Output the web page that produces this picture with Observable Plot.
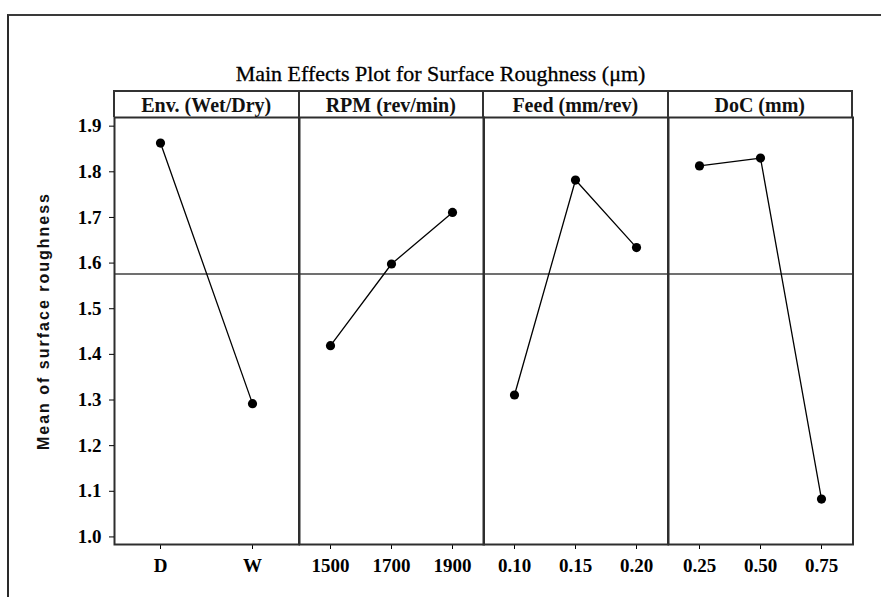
<!DOCTYPE html>
<html>
<head>
<meta charset="utf-8">
<script src="https://cdn.jsdelivr.net/npm/d3@7"></script>
<script src="https://cdn.jsdelivr.net/npm/@observablehq/plot@0.6"></script>
<style>
  html, body { margin: 0; padding: 0; background: #fff; }
  #chart { position: relative; width: 881px; height: 597px; overflow: hidden; background: #fff; }
  .outer { position: absolute; left: 7px; top: 14px; width: 900px; height: 700px; box-sizing: border-box;
           border-left: 2px solid #2a2a2a; border-top: 2px solid #3a3a3a; }
  .title { position: absolute; left: 0; width: 881px; top: 61px; text-align: center;
           font: 22px "Liberation Serif", "Times New Roman", serif; color: #000; white-space: nowrap;
           -webkit-text-stroke: 0.3px #000; }
  .hdr { position: absolute; top: 90px; height: 27px; box-sizing: border-box;
         border-top: 2px solid #333; display: flex; align-items: center; justify-content: center;
         font: bold 20px "Liberation Serif", "Times New Roman", serif; color: #111; white-space: nowrap; padding-top: 2px; }
  .ylab { position: absolute; left: 44px; top: 321px; transform: translate(-50%, -50%) rotate(-90deg);
          font: bold 16px "Liberation Sans", Arial, sans-serif; letter-spacing: 2px; color: #111; white-space: nowrap; }
</style>
</head>
<body>
<div id="chart"></div>
<script>
// ---- data ----
const factors = ["Env. (Wet/Dry)", "RPM (rev/min)", "Feed (mm/rev)", "DoC (mm)"];
const envLevels = ["D", "W"];
const envMeans = [1.863, 1.292];
const rpmLevels = ["1500", "1700", "1900"];
const rpmMeans = [1.419, 1.598, 1.711];
const feedLevels = ["0.10", "0.15", "0.20"];
const feedMeans = [1.311, 1.782, 1.634];
const docLevels = ["0.25", "0.50", "0.75"];
const docMeans = [1.813, 1.830, 1.083];
const grandMean = 1.576;
const yTicks = [1.0, 1.1, 1.2, 1.3, 1.4, 1.5, 1.6, 1.7, 1.8, 1.9];
const titleText = "Main Effects Plot for Surface Roughness (μm)";
const yLabel = "Mean of surface roughness";

// ---- layout ----
const W = 881, H = 597;
const x0 = 114, x1 = 852, yTop = 117, yBot = 544;
const pw = (x1 - x0) / 4;
const yLo = 0.9834, yHi = 1.919;

const chart = document.getElementById("chart");
const outer = document.createElement("div"); outer.className = "outer"; chart.appendChild(outer);
const t = document.createElement("div"); t.className = "title"; t.textContent = titleText; chart.appendChild(t);
const yl = document.createElement("div"); yl.className = "ylab"; yl.textContent = yLabel; chart.appendChild(yl);

const panels = [
  {label: factors[0], levels: envLevels, means: envMeans},
  {label: factors[1], levels: rpmLevels, means: rpmMeans},
  {label: factors[2], levels: feedLevels, means: feedMeans},
  {label: factors[3], levels: docLevels, means: docMeans}
];

panels.forEach((p, i) => {
  const left = x0 + i * pw;
  const ml = i === 0 ? left : 0;
  const data = p.levels.map((l, j) => ({level: l, mean: p.means[j]}));
  const marks = [
    Plot.ruleY([grandMean], {stroke: "#404040", strokeWidth: 1.6}),
    Plot.frame({stroke: "#2e2e2e", strokeWidth: 2}),
    Plot.line(data, {x: "level", y: "mean", stroke: "#000", strokeWidth: 1.3}),
    Plot.dot(data, {x: "level", y: "mean", r: 4.6, fill: "#000"})
  ];
  if (i === 0) {
    marks.push(Plot.axisY(yTicks, {tickSize: 5, tickPadding: 8, tickFormat: d => d.toFixed(1), label: null}));
  }
  const svg = Plot.plot({
    width: pw + ml,
    height: H,
    marginLeft: ml, marginRight: 0, marginTop: yTop, marginBottom: H - yBot,
    style: {background: "transparent", overflow: "visible", color: "#000",
            fontFamily: "'Liberation Serif', 'Times New Roman', serif", fontSize: "19px", fontWeight: "bold"},
    x: {type: "point", domain: p.levels, padding: 0.5, align: 0.5, tickSize: 5, tickPadding: 9, label: null},
    y: {domain: [yLo, yHi], axis: i === 0 ? undefined : null, label: null},
    marks
  });
  svg.style.position = "absolute";
  svg.style.left = (left - ml) + "px";
  svg.style.top = "0px";
  svg.style.maxWidth = "none";
  chart.appendChild(svg);

  const h = document.createElement("div");
  h.className = "hdr";
  h.textContent = p.label;
  h.style.left = (left - 1) + "px";
  h.style.width = (pw + (i === 3 ? 2 : 0)) + "px";
  h.style.borderLeft = "2px solid #333";
  if (i === 3) h.style.borderRight = "2px solid #333";
  chart.appendChild(h);
});
</script>
</body>
</html>
